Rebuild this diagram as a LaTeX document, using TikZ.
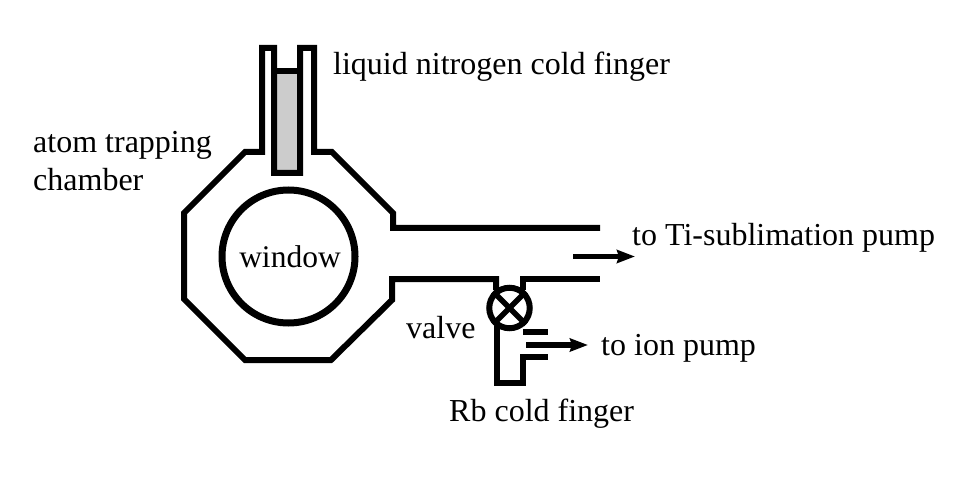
\documentclass[tikz,border=0pt]{standalone}
\usepackage{fontspec}
\usetikzlibrary{arrows.meta}
\setmainfont{Liberation Serif}
\tikzset{
	wall/.style={draw, line width=6pt, line join=miter, miter limit=2},
	flow/.style={-{Stealth[length=18pt, width=13pt, inset=2pt]}, line width=5.5pt},
	caption/.style={inner sep=0pt, anchor=base west, font=\fontsize{32}{36}\selectfont},
}
\begin{document}
\begin{tikzpicture}[x=1pt, y=-1pt]
	\useasboundingbox (0, 0) rectangle (976, 486);
	% cold finger
	\fill[gray!40] (274, 71) rectangle (300, 173);
	\draw[wall] (274, 71) -- (300, 71);
	% chamber with its tubes
	\draw[wall] (600, 228) -- (393, 228) -- (393, 213) -- (332, 152) -- (314, 152) -- (314, 48) -- (300, 48) -- (300, 173) -- (274, 173) -- (274, 48) -- (262, 48) -- (262, 152) -- (245, 152) -- (184, 213) -- (184, 299) -- (245, 360) -- (331, 360) -- (392, 300) -- (392, 279) -- (496, 279) -- (496, 290);
	\draw[wall] (523, 290) -- (523, 279) -- (600, 279);
	% valve and the branch under it
	\node[draw, circle, line width=6pt, fill=white, minimum size=40.5pt, inner sep=0pt] (valve)at(509.5, 308) {};
	\draw[line width=5.5pt] (valve.45) -- (valve.225);
	\draw[line width=5.5pt] (valve.135) -- (valve.315);
	\draw[wall] (497, 326) -- (497, 383) -- (523, 383) -- (523, 357) -- (548, 357);
	\draw[wall] (523, 332) -- (548, 332);
	% window
	\node[draw, circle, line width=7pt, minimum size=133pt, inner sep=0pt, font=\fontsize{31.5}{36}\selectfont] (window)at(288.5, 256.5) {\kern3pt window};
	% pumps
	\coordinate (tiStart) at (573, 256.5);
	\coordinate (tiEnd) at (635, 256.5);
	\coordinate (ionStart) at (526, 345);
	\coordinate (ionEnd) at (588, 345);
	\draw[flow] (tiStart) -- (tiEnd);
	\draw[flow] (ionStart) -- (ionEnd);
	% labels
	\node[caption] (nitrogen)at(333, 75) {liquid nitrogen cold finger};
	\node[caption] (atom)at(33, 153) {atom trapping};
	\node[caption] (chamber)at(33, 191) {chamber};
	\node[caption] (ti)at(632, 246) {to Ti-sublimation pump};
	\node[caption] (ion)at(601, 355) {to ion pump};
	\node[caption] (valvelabel)at(406, 338) {valve};
	\node[caption] (rb)at(449, 421) {Rb cold finger};
\end{tikzpicture}
\end{document}
